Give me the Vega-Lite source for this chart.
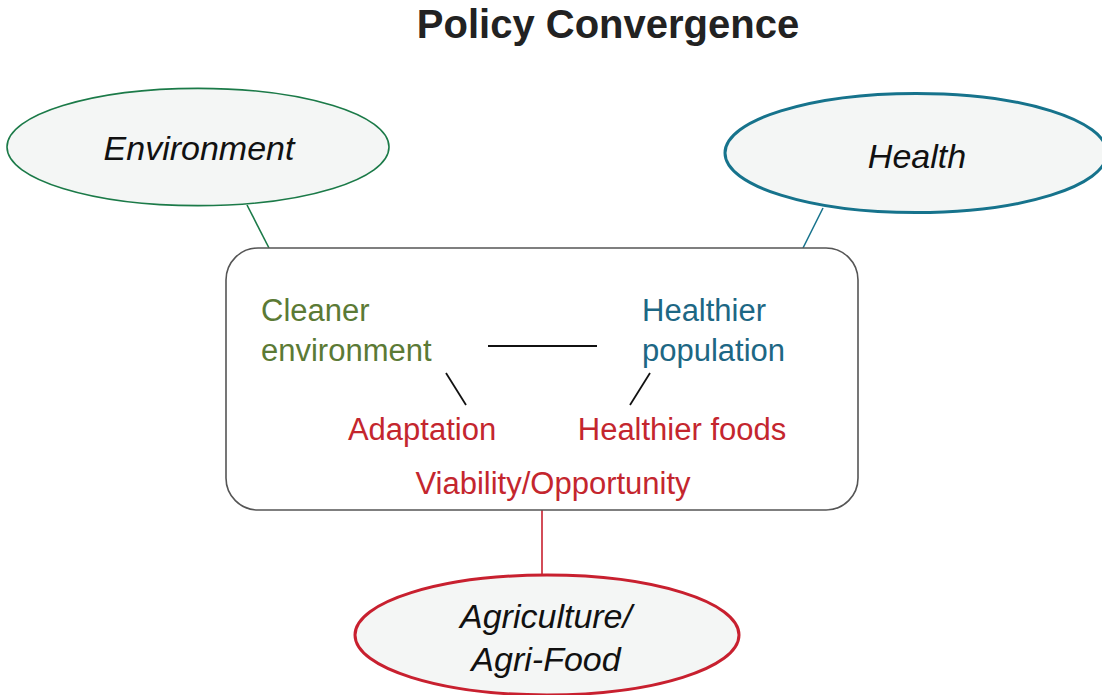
{
  "$schema": "https://vega.github.io/schema/vega-lite/v6.json",
  "width": 1102,
  "height": 695,
  "autosize": {"type": "none"},
  "padding": 0,
  "background": "white",
  "config": {"view": {"stroke": null}},
  "resolve": {"scale": {"color": "independent"}},
  "datasets": {
    "links": [
      {"link": "env-box", "group": "env", "x": 247, "y": 205, "x2": 269, "y2": 248},
      {"link": "health-box", "group": "health", "x": 823, "y": 208, "x2": 803, "y2": 248},
      {"link": "agri-box", "group": "agri", "x": 542, "y": 510, "x2": 542, "y2": 575}
    ],
    "innerlinks": [
      {"link": "clean-healthy", "x": 488, "y": 346, "x2": 597, "y2": 346},
      {"link": "clean-adapt", "x": 446, "y": 373, "x2": 466, "y2": 405},
      {"link": "pop-foods", "x": 650, "y": 373, "x2": 630, "y2": 405}
    ],
    "box": [{"x": 226, "x2": 858, "y": 248, "y2": 510}],
    "nodes": [
      {"node": "Environment", "x": 198, "y": 147},
      {"node": "Health", "x": 916, "y": 153},
      {"node": "Agriculture", "x": 547, "y": 635}
    ],
    "labels": [
      {"text": "Environment", "kind": "node", "x": 199, "y": 160},
      {"text": "Health", "kind": "node", "x": 917, "y": 168},
      {"text": "Agriculture/", "kind": "node", "x": 546, "y": 628},
      {"text": "Agri-Food", "kind": "node", "x": 546, "y": 671}
    ],
    "inner": [
      {"text": "Cleaner", "group": "env", "anchor": "left", "x": 261, "y": 321},
      {"text": "environment", "group": "env", "anchor": "left", "x": 261, "y": 361},
      {"text": "Healthier", "group": "health", "anchor": "left", "x": 642, "y": 321},
      {"text": "population", "group": "health", "anchor": "left", "x": 642, "y": 361},
      {"text": "Adaptation", "group": "agri", "anchor": "center", "x": 422, "y": 440},
      {"text": "Healthier foods", "group": "agri", "anchor": "center", "x": 682, "y": 440},
      {"text": "Viability/Opportunity", "group": "agri", "anchor": "center", "x": 553, "y": 494}
    ],
    "title": [{"text": "Policy Convergence", "x": 608, "y": 38}]
  },
  "layer": [
    {
      "data": {"name": "links"},
      "mark": {"type": "rule", "strokeWidth": 1.6},
      "encoding": {
        "x": {"field": "x", "type": "quantitative", "scale": {"domain": [0, 1102], "nice": false, "zero": false}, "axis": null},
        "y": {"field": "y", "type": "quantitative", "scale": {"domain": [0, 695], "nice": false, "zero": false, "reverse": true}, "axis": null},
        "x2": {"field": "x2"},
        "y2": {"field": "y2"},
        "color": {"field": "group", "type": "nominal", "legend": null,
          "scale": {"domain": ["env", "health", "agri"], "range": ["#1b7a48", "#16738c", "#c8202f"]}}
      }
    },
    {
      "data": {"name": "box"},
      "mark": {"type": "rect", "fill": "white", "stroke": "#555555", "strokeWidth": 1.6, "cornerRadius": 32},
      "encoding": {
        "x": {"field": "x", "type": "quantitative"},
        "x2": {"field": "x2"},
        "y": {"field": "y", "type": "quantitative"},
        "y2": {"field": "y2"}
      }
    },
    {
      "data": {"name": "innerlinks"},
      "mark": {"type": "rule", "strokeWidth": 1.8, "color": "#111111"},
      "encoding": {
        "x": {"field": "x", "type": "quantitative"},
        "y": {"field": "y", "type": "quantitative"},
        "x2": {"field": "x2"},
        "y2": {"field": "y2"}
      }
    },
    {
      "data": {"name": "nodes"},
      "transform": [{"filter": "datum.node === 'Environment'"}],
      "mark": {"type": "point", "filled": false, "fill": "#f4f6f5", "fillOpacity": 1, "opacity": 1, "stroke": "#1b7a48", "strokeWidth": 1.6,
        "shape": "M -1 0 A 1 0.307 0 1 0 1 0 A 1 0.307 0 1 0 -1 0 Z", "size": 145924},
      "encoding": {
        "x": {"field": "x", "type": "quantitative"},
        "y": {"field": "y", "type": "quantitative"}
      }
    },
    {
      "data": {"name": "nodes"},
      "transform": [{"filter": "datum.node === 'Health'"}],
      "mark": {"type": "point", "filled": false, "fill": "#f4f6f5", "fillOpacity": 1, "opacity": 1, "stroke": "#16738c", "strokeWidth": 3,
        "shape": "M -1 0 A 1 0.312 0 1 0 1 0 A 1 0.312 0 1 0 -1 0 Z", "size": 145924},
      "encoding": {
        "x": {"field": "x", "type": "quantitative"},
        "y": {"field": "y", "type": "quantitative"}
      }
    },
    {
      "data": {"name": "nodes"},
      "transform": [{"filter": "datum.node === 'Agriculture'"}],
      "mark": {"type": "point", "filled": false, "fill": "#f4f6f5", "fillOpacity": 1, "opacity": 1, "stroke": "#c8202f", "strokeWidth": 3,
        "shape": "M -1 0 A 1 0.312 0 1 0 1 0 A 1 0.312 0 1 0 -1 0 Z", "size": 147456},
      "encoding": {
        "x": {"field": "x", "type": "quantitative"},
        "y": {"field": "y", "type": "quantitative"}
      }
    },
    {
      "data": {"name": "labels"},
      "mark": {"type": "text", "font": "Liberation Sans", "fontStyle": "italic", "fontSize": 34, "color": "#111111", "align": "center", "baseline": "alphabetic"},
      "encoding": {
        "x": {"field": "x", "type": "quantitative"},
        "y": {"field": "y", "type": "quantitative"},
        "text": {"field": "text"}
      }
    },
    {
      "data": {"name": "inner"},
      "transform": [{"filter": "datum.anchor === 'left'"}],
      "mark": {"type": "text", "font": "Liberation Sans", "fontSize": 31, "align": "left", "baseline": "alphabetic"},
      "encoding": {
        "x": {"field": "x", "type": "quantitative"},
        "y": {"field": "y", "type": "quantitative"},
        "text": {"field": "text"},
        "color": {"field": "group", "type": "nominal", "legend": null,
          "scale": {"domain": ["env", "health"], "range": ["#5b7a35", "#1d6784"]}}
      }
    },
    {
      "data": {"name": "inner"},
      "transform": [{"filter": "datum.anchor === 'center'"}],
      "mark": {"type": "text", "font": "Liberation Sans", "fontSize": 31, "align": "center", "baseline": "alphabetic", "color": "#c4262e"},
      "encoding": {
        "x": {"field": "x", "type": "quantitative"},
        "y": {"field": "y", "type": "quantitative"},
        "text": {"field": "text"}
      }
    },
    {
      "data": {"name": "title"},
      "mark": {"type": "text", "font": "Liberation Sans", "fontWeight": "bold", "fontSize": 40, "color": "#222222", "align": "center", "baseline": "alphabetic"},
      "encoding": {
        "x": {"field": "x", "type": "quantitative"},
        "y": {"field": "y", "type": "quantitative"},
        "text": {"field": "text"}
      }
    }
  ]
}
